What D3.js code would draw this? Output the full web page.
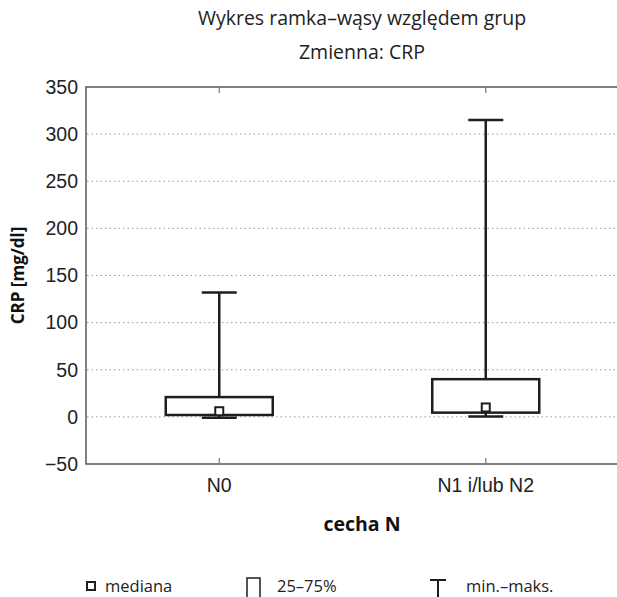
<!DOCTYPE html>
<html>
<head>
<meta charset="utf-8">
<script src="https://cdnjs.cloudflare.com/ajax/libs/d3/7.8.5/d3.min.js"></script>
<style>
    body { margin: 0; background: #fff; }
    svg { font-family: "Open Sans", Lato, sans-serif; }
    .axis path, .axis line { display: none; }
    .axis text { font-size: 19.5px; fill: #222; }
</style>
</head>
<body>
<svg id="chart"></svg>
<script>
// Data
let groups = ["N0", "N1 i/lub N2"];
let mins = [-1, 0.5];
let q1s = [2, 4.5];
let medians = [6, 10];
let q3s = [21, 40];
let maxs = [132, 315];
let yTicks = [-50, 0, 50, 100, 150, 200, 250, 300, 350];
let gridTicks = [0, 50, 100, 150, 200, 250, 300];

let config = {
    svg: { width: 617, height: 597 },
    plot: { x: 86, y: 87, width: 533, height: 377 }
};

function translate(x, y) {
    return 'translate(' + x + ',' + y + ')';
}

let svg = d3.select("#chart")
    .attr("width", config.svg.width)
    .attr("height", config.svg.height);

let plot = svg.append("g").attr("transform", translate(config.plot.x, config.plot.y));

let scales = {};
scales.x = d3.scaleBand().domain(groups).range([0, config.plot.width]);
scales.y = d3.scaleLinear().domain([-50, 350]).range([config.plot.height, 0]);

// Gridlines
plot.append("g")
    .selectAll("line")
    .data(gridTicks)
    .enter().append("line")
    .attr("x1", 1).attr("x2", config.plot.width)
    .attr("y1", d => scales.y(d)).attr("y2", d => scales.y(d))
    .style("stroke", "#999")
    .style("stroke-width", 1)
    .style("stroke-dasharray", "1.5,3");

// Frame
plot.append("rect")
    .attr("width", config.plot.width)
    .attr("height", config.plot.height)
    .style("fill", "none")
    .style("stroke", "#555")
    .style("stroke-width", 1.5);

// Category ticks on top and bottom (inward)
let tickGroup = plot.append("g");
groups.forEach(g => {
    let cx = scales.x(g) + scales.x.bandwidth() / 2;
    tickGroup.append("line").attr("x1", cx).attr("x2", cx).attr("y1", 0).attr("y2", 6)
        .style("stroke", "#777").style("stroke-width", 1.2);
    tickGroup.append("line").attr("x1", cx).attr("x2", cx).attr("y1", config.plot.height).attr("y2", config.plot.height - 6)
        .style("stroke", "#777").style("stroke-width", 1.2);
});

// Axes
plot.append("g")
    .attr("class", "axis")
    .call(d3.axisLeft(scales.y).tickValues(yTicks).tickSize(0).tickPadding(8)
        .tickFormat(d => d < 0 ? "\u2212" + Math.abs(d) : d));

plot.append("g")
    .attr("class", "axis")
    .attr("transform", translate(0, config.plot.height))
    .call(d3.axisBottom(scales.x).tickSize(0).tickPadding(14));

// Boxes
let boxWidth = 107, capWidth = 35, medSize = 8;
let data = groups.map((g, i) => ({
    group: g, min: mins[i], q1: q1s[i], median: medians[i], q3: q3s[i], max: maxs[i]
}));

let boxes = plot.append("g").selectAll("g")
    .data(data)
    .enter().append("g")
    .attr("transform", d => translate(scales.x(d.group) + scales.x.bandwidth() / 2, 0));

let ink = "#1e1e1e";
boxes.append("line")
    .attr("x1", 0).attr("x2", 0)
    .attr("y1", d => scales.y(d.max)).attr("y2", d => scales.y(d.q3))
    .style("stroke", ink).style("stroke-width", 2.5);
boxes.append("line")
    .attr("x1", 0).attr("x2", 0)
    .attr("y1", d => scales.y(d.q1)).attr("y2", d => scales.y(d.min))
    .style("stroke", ink).style("stroke-width", 2.5);
boxes.append("line")
    .attr("x1", -capWidth / 2).attr("x2", capWidth / 2)
    .attr("y1", d => scales.y(d.max)).attr("y2", d => scales.y(d.max))
    .style("stroke", ink).style("stroke-width", 2.5);
boxes.append("line")
    .attr("x1", -capWidth / 2).attr("x2", capWidth / 2)
    .attr("y1", d => scales.y(d.min)).attr("y2", d => scales.y(d.min))
    .style("stroke", ink).style("stroke-width", 2.5);
boxes.append("rect")
    .attr("x", -boxWidth / 2).attr("width", boxWidth)
    .attr("y", d => scales.y(d.q3))
    .attr("height", d => scales.y(d.q1) - scales.y(d.q3))
    .style("fill", "none").style("stroke", ink).style("stroke-width", 2.5);
boxes.append("rect")
    .attr("x", -medSize / 2).attr("width", medSize)
    .attr("y", d => scales.y(d.median) - medSize / 2).attr("height", medSize)
    .style("fill", "#fff").style("stroke", ink).style("stroke-width", 2);

// Titles
svg.append("text")
    .attr("x", 362).attr("y", 25)
    .attr("text-anchor", "middle")
    .style("font-size", "19.5px").style("fill", "#222")
    .text("Wykres ramka\u2013wąsy względem grup");
svg.append("text")
    .attr("x", 362).attr("y", 59)
    .attr("text-anchor", "middle")
    .style("font-size", "19.5px").style("fill", "#222")
    .text("Zmienna: CRP");

svg.append("text")
    .attr("transform", translate(24, config.plot.y + config.plot.height / 2) + " rotate(-90)")
    .attr("text-anchor", "middle")
    .style("font-size", "17px").style("font-weight", "bold").style("fill", "#111")
    .text("CRP [mg/dl]");

svg.append("text")
    .attr("x", 362).attr("y", 531)
    .attr("text-anchor", "middle")
    .style("font-size", "19.5px").style("font-weight", "bold").style("fill", "#111")
    .text("cecha N");

// Legend
let legend = svg.append("g").attr("transform", translate(0, 586));
legend.append("rect")
    .attr("x", 87).attr("y", -4).attr("width", 8).attr("height", 8)
    .style("fill", "#fff").style("stroke", ink).style("stroke-width", 2);
legend.append("text").attr("x", 105).attr("y", 6).style("font-size", "16.5px").style("fill", "#222").text("mediana");

legend.append("path")
    .attr("d", "M247,12 V-8 H260 V12")
    .style("fill", "none").style("stroke", ink).style("stroke-width", 1.5);
legend.append("text").attr("x", 277).attr("y", 6).style("font-size", "16.5px").style("fill", "#222").text("25\u201375%");

legend.append("path")
    .attr("d", "M430,-6 H446 M438,-6 V12")
    .style("fill", "none").style("stroke", ink).style("stroke-width", 2);
legend.append("text").attr("x", 466).attr("y", 6).style("font-size", "16.5px").style("fill", "#222").text("min.\u2013maks.");
</script>
</body>
</html>
